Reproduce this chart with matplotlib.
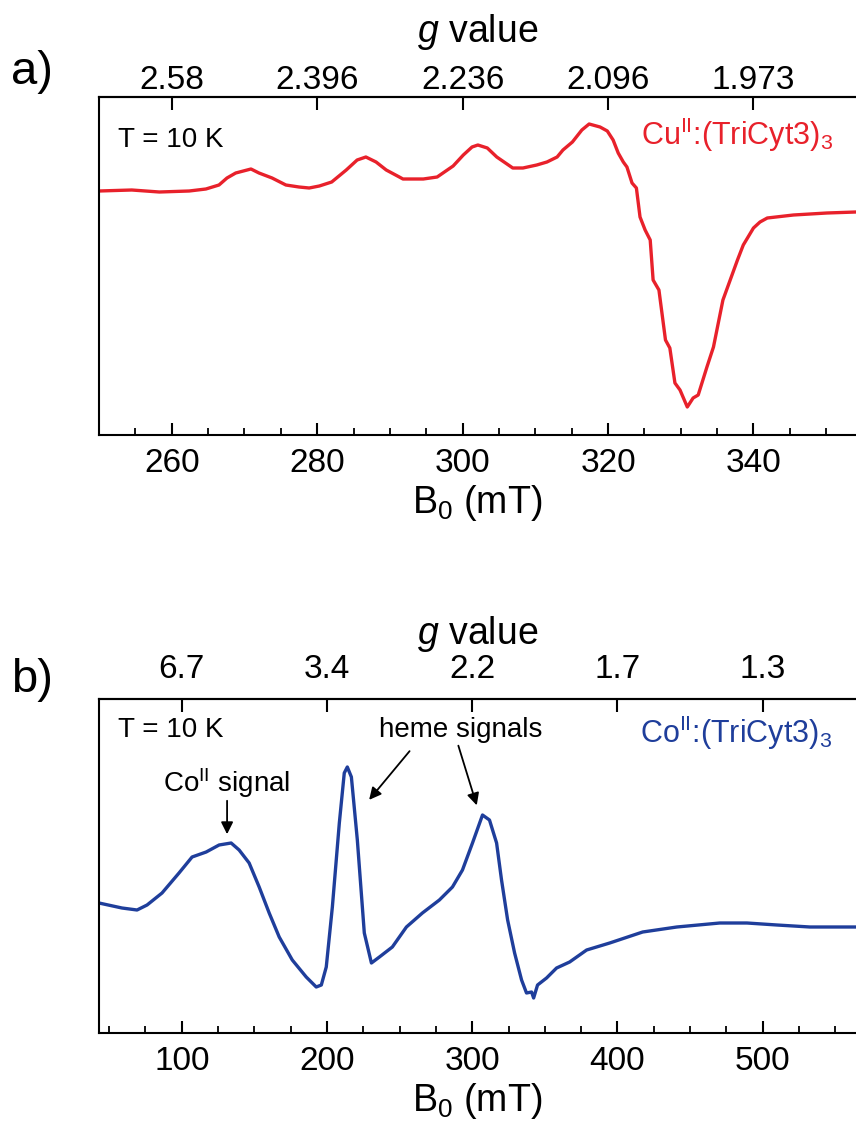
import matplotlib
matplotlib.use("Agg")
import matplotlib.pyplot as plt
from matplotlib.ticker import MultipleLocator

plt.rcParams['font.family'] = ['Liberation Sans', 'DejaVu Sans']
plt.rcParams['mathtext.fontset'] = 'custom'
plt.rcParams['mathtext.rm'] = 'Liberation Sans'
plt.rcParams['mathtext.it'] = 'Liberation Sans:italic'
plt.rcParams['mathtext.bf'] = 'Liberation Sans:bold'

# ---------------- data: panel a (Cu) ----------------
cu_field = [250.0, 254.5, 258.3, 262.4, 264.7, 266.5, 267.6, 268.8, 270.9, 272.0,
            273.8, 275.7, 277.5, 278.9, 280.3, 282.0, 284.0, 285.5, 286.7, 288.1,
            289.5, 291.3, 291.8, 294.6, 296.5, 297.3, 298.7, 300.1, 301.3, 302.1,
            303.4, 304.7, 306.1, 306.9, 308.3, 310.2, 311.6, 313.0, 313.8, 315.1,
            316.4, 317.4, 318.9, 319.9, 320.7, 321.4, 322.1, 322.6, 323.3, 323.9,
            324.4, 325.1, 325.8, 326.2, 327.0, 327.9, 328.5, 329.2, 329.9, 330.9,
            331.7, 332.4, 333.6, 334.5, 335.8, 337.8, 338.6, 340.0, 340.9, 341.9,
            345.5, 350.1, 354.1, 356.0]
cu_signal = [-1, 0, -2, -1, 1, 5, 12, 17, 21, 17,
             12, 5, 3, 2, 4, 8, 20, 30, 33, 28,
             20, 13, 11, 11, 13, 17, 24, 35, 43, 45,
             42, 33, 26, 22, 22, 25, 28, 33, 40, 48,
             60, 66, 63, 59, 50, 37, 28, 23, 7, 2,
             -27, -40, -50, -90, -100, -150, -158, -193, -200, -217,
             -208, -205, -177, -157, -110, -70, -55, -38, -32, -28,
             -25, -23, -22, -22]

# ---------------- data: panel b (Co) ----------------
co_field = [43.0, 58.8, 69.2, 76.1, 86.4, 98.1, 107.1, 116.8, 125.7, 134.0,
            139.5, 146.4, 153.3, 160.2, 167.1, 176.1, 185.7, 192.6, 196.1, 199.5,
            203.7, 208.5, 211.9, 214.0, 216.8, 220.9, 225.7, 230.6, 236.1, 245.0,
            254.7, 265.7, 277.4, 286.4, 293.3, 300.2, 307.1, 311.9, 316.8, 320.2,
            324.4, 329.2, 334.0, 337.4, 340.9, 342.3, 345.0, 351.2, 358.1, 367.1,
            378.8, 394.7, 417.4, 440.9, 470.5, 489.2, 509.9, 532.6, 564.3, 570.0]
co_signal = [2, -3, -5, 0, 12, 32, 48, 53, 60, 62,
             55, 42, 18, -8, -32, -55, -72, -82, -80, -62,
             -2, 82, 132, 138, 128, 65, -28, -58, -52, -42,
             -22, -8, 5, 18, 35, 62, 90, 85, 62, 25,
             -15, -48, -75, -88, -87, -93, -80, -73, -63, -57,
             -45, -38, -27, -22, -18, -18, -20, -22, -22, -22]

# ---------------- axis ticks / labels ----------------
a_xlim = (250, 354.1)
a_major = [260, 280, 300, 320, 340]
a_g_labels = ['2.58', '2.396', '2.236', '2.096', '1.973']
b_xlim = (43, 564.3)
b_major = [100, 200, 300, 400, 500]
b_g_labels = ['6.7', '3.4', '2.2', '1.7', '1.3']

red = '#E8212B'
blue = '#1F3E9B'

W, H = 856, 1128
fig = plt.figure(figsize=(W / 100, H / 100), dpi=100)

def px_axes(left, top, bottom):
    return fig.add_axes([left / W, (H - bottom) / H, 1 - left / W, (bottom - top) / H])

axA = px_axes(99, 97, 435)
axB = px_axes(99, 699, 1033)

def style(ax, major, minor_step, glabels, xlim, ylim, top_pad, g_pad):
    ax.set_xlim(*xlim)
    ax.set_ylim(*ylim)
    ax.set_yticks([])
    ax.spines['right'].set_visible(False)
    for s in ['left', 'bottom', 'top']:
        ax.spines[s].set_linewidth(1.5)
    ax.set_xticks(major)
    ax.xaxis.set_minor_locator(MultipleLocator(minor_step))
    ax.tick_params(axis='x', which='major', direction='in', length=9, width=1.5,
                   labelsize=24, pad=9)
    ax.tick_params(axis='x', which='minor', direction='in', length=5, width=1.3)
    ax.set_xlabel(r'B$_0$ (mT)', fontsize=27, labelpad=3)
    sec = ax.secondary_xaxis('top')
    sec.set_xticks(major, glabels)
    sec.tick_params(axis='x', which='major', direction='in', length=9, width=1.5,
                    labelsize=24, pad=top_pad)
    sec.minorticks_off()
    sec.spines['top'].set_linewidth(1.5)
    sec.set_xlabel(r'$g$ value', fontsize=27, labelpad=g_pad)
    return sec

style(axA, a_major, 5, a_g_labels, a_xlim, (-245, 93), top_pad=1, g_pad=16)
style(axB, b_major, 25, b_g_labels, b_xlim, (-128, 206), top_pad=10, g_pad=7)

axA.plot(cu_field, cu_signal, color=red, lw=2.4, solid_joinstyle='round')
axB.plot(co_field, co_signal, color=blue, lw=2.4, solid_joinstyle='round')

# panel text
axA.text(0.025, 0.852, 'T = 10 K', transform=axA.transAxes, fontsize=20, va='baseline')
axB.text(0.025, 0.885, 'T = 10 K', transform=axB.transAxes, fontsize=20, va='baseline')
axA.text((641 - 99) / 757, 1 - (145 - 97) / 338, r'Cu$^{\rm II}$:(TriCyt3)$_3$',
         transform=axA.transAxes, fontsize=22, color=red, va='baseline')
axB.text((640 - 99) / 757, 1 - (743 - 699) / 334, r'Co$^{\rm II}$:(TriCyt3)$_3$',
         transform=axB.transAxes, fontsize=22, color=blue, va='baseline')

fig.text(32 / W, 1 - 72 / H, 'a)', fontsize=34, ha='center', va='center')
fig.text(32 / W, 1 - 680 / H, 'b)', fontsize=34, ha='center', va='center')

# annotations in panel b
arrow = dict(arrowstyle='-|>', color='black', lw=1.3, mutation_scale=18)
axB.annotate('', xy=(131.2, 68), xytext=(131.2, 107), arrowprops=arrow)
axB.text(131.2, 113, r'Co$^{\rm II}$ signal', fontsize=20, ha='center', va='baseline')
axB.annotate('', xy=(227.8, 103), xytext=(258.1, 156), arrowprops=arrow)
axB.annotate('', xy=(303.7, 97), xytext=(289.9, 162), arrowprops=arrow)
axB.text(291.9, 168, 'heme signals', fontsize=20, ha='center', va='baseline')

fig.savefig('out.png', dpi=100)
